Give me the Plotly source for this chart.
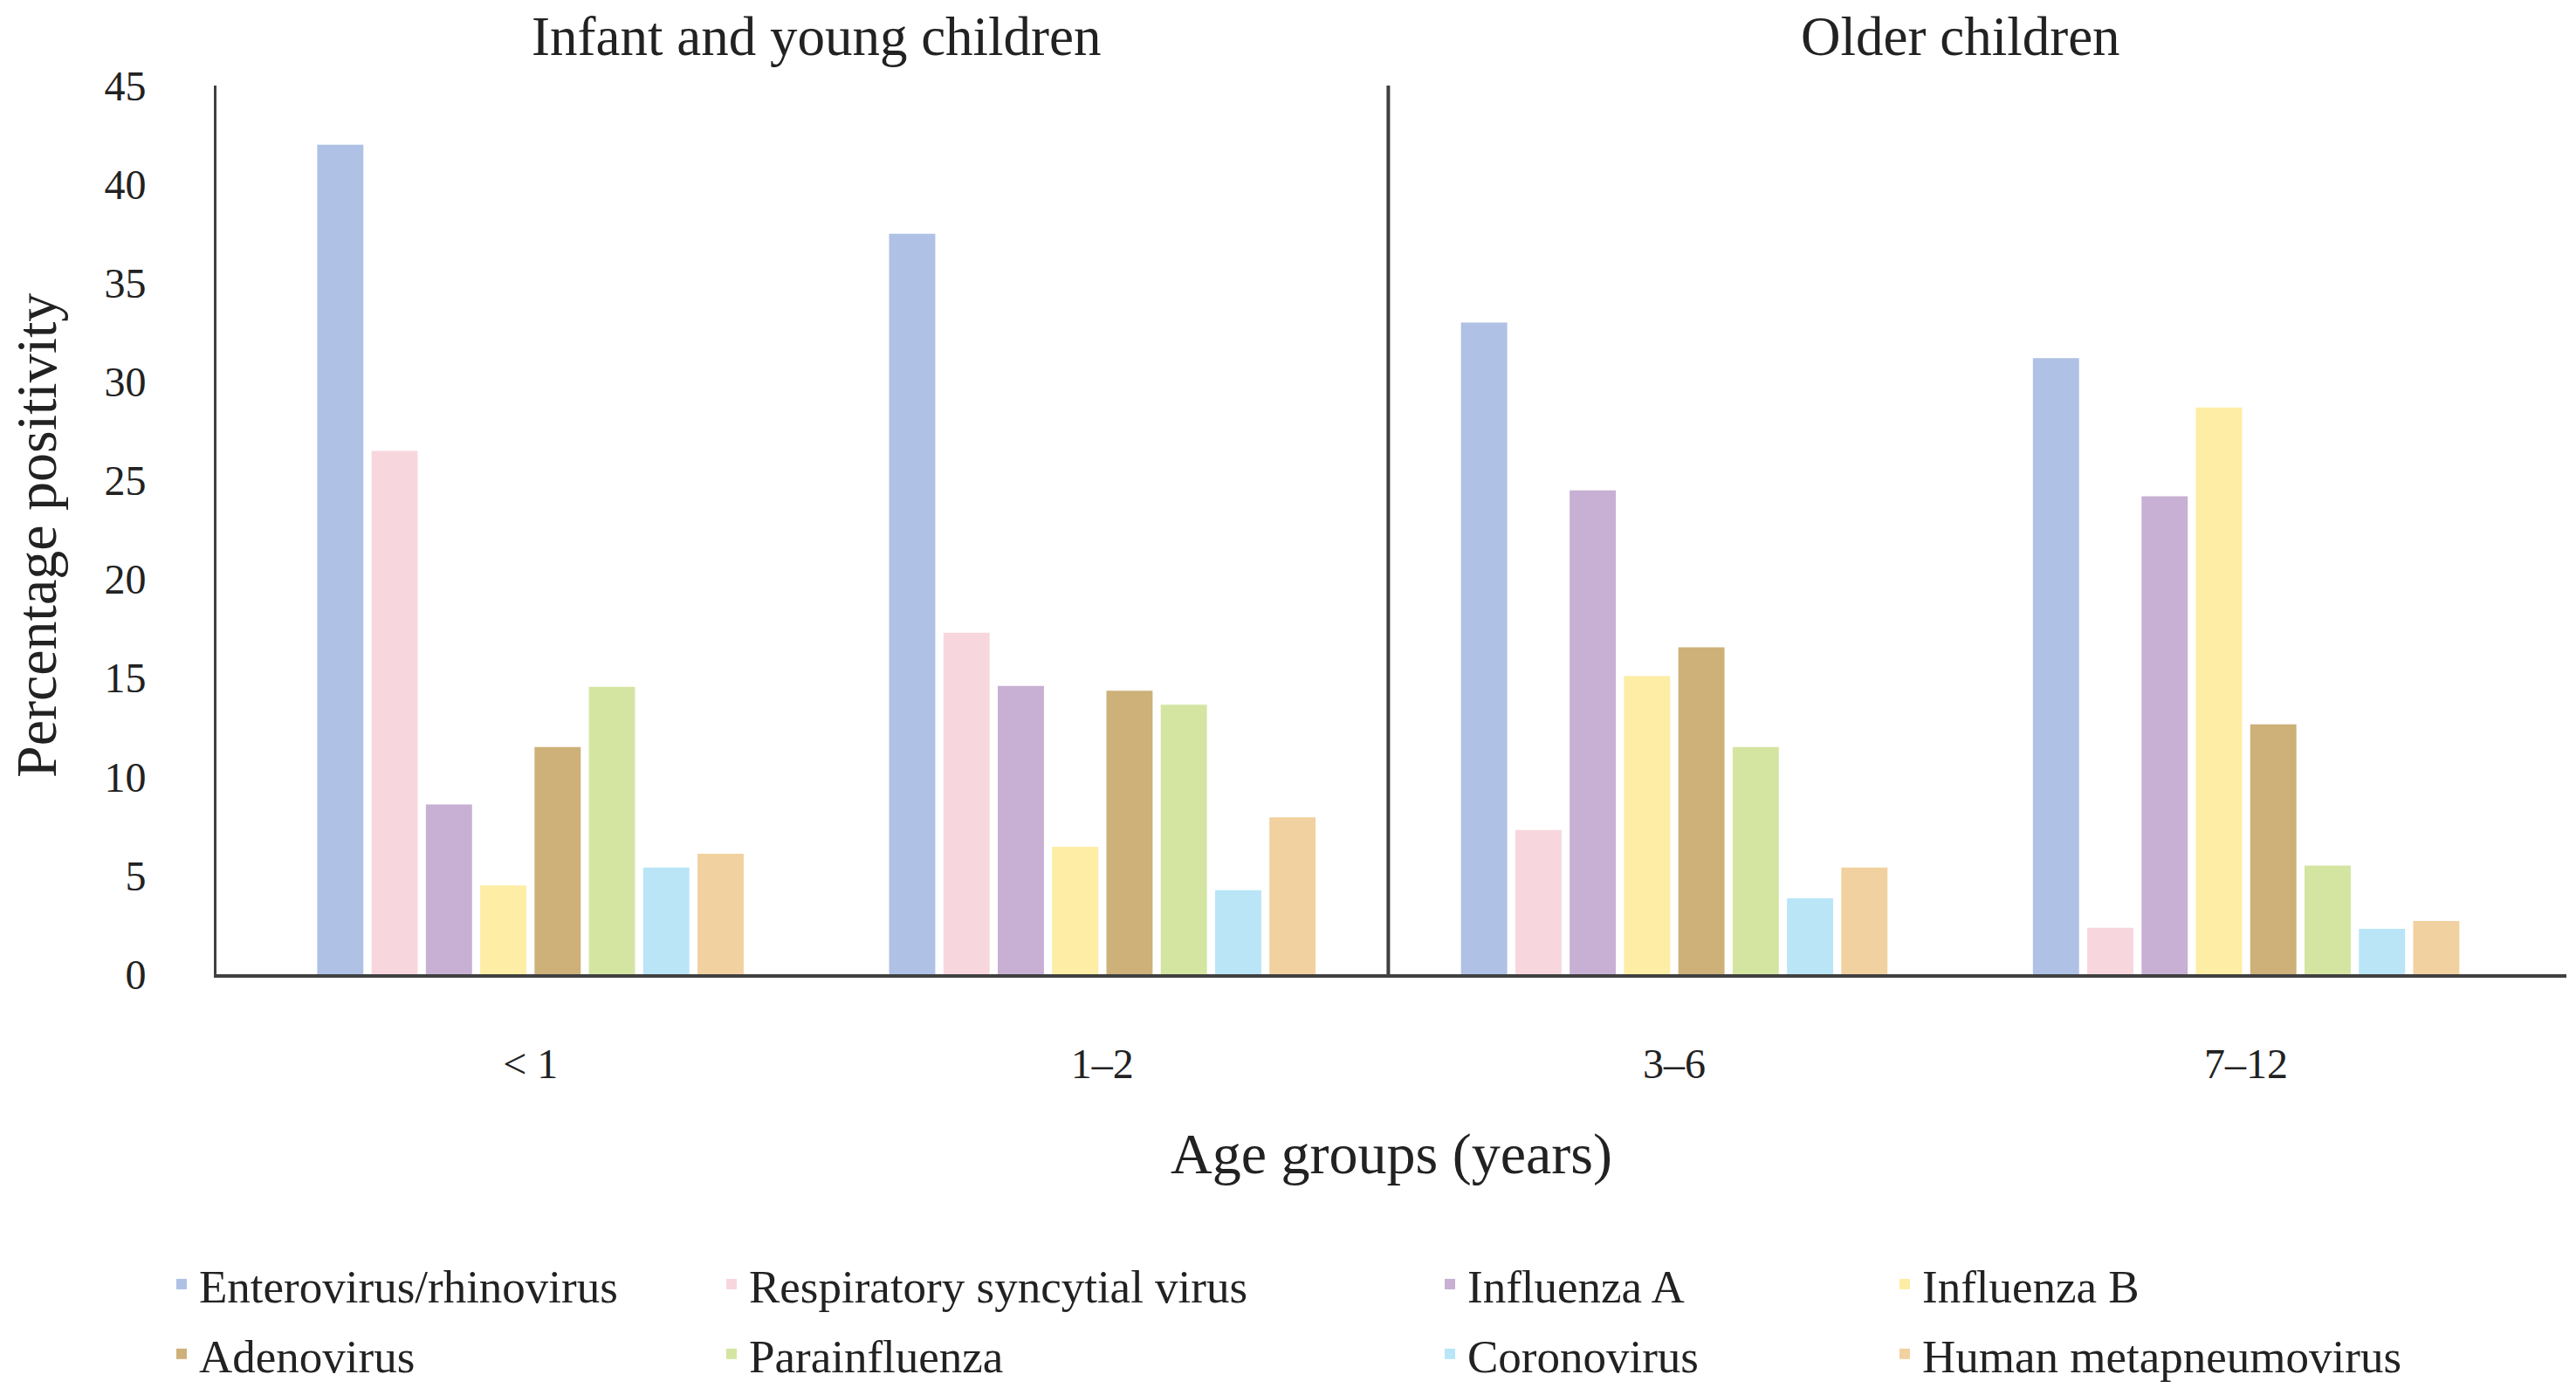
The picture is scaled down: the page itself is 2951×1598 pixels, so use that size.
import plotly.graph_objects as go

age_groups = ["< 1", "1–2", "3–6", "7–12"]
virus_names = ["Enterovirus/rhinovirus", "Respiratory syncytial virus", "Influenza A", "Influenza B",
               "Adenovirus", "Parainfluenza", "Coronovirus", "Human metapneumovirus"]
enterovirus = [42.0, 37.5, 33.0, 31.2]
rsv = [26.5, 17.3, 7.3, 2.35]
influenza_a = [8.6, 14.6, 24.5, 24.2]
influenza_b = [4.5, 6.45, 15.1, 28.7]
adenovirus = [11.5, 14.35, 16.55, 12.65]
parainfluenza = [14.55, 13.65, 11.5, 5.5]
coronovirus = [5.4, 4.25, 3.85, 2.3]
hmpv = [6.1, 7.95, 5.4, 2.7]
series = [enterovirus, rsv, influenza_a, influenza_b, adenovirus, parainfluenza, coronovirus, hmpv]
colors = ["#AFC1E4", "#F7D7DD", "#C7B0D3", "#FDEDA5", "#CDB179", "#D4E5A2", "#B9E5F7", "#F2D1A0"]
group_titles = ["Infant and young children", "Older children"]
y_title = "Percentage positivity"
x_title = "Age groups (years)"
y_ticks = [0, 5, 10, 15, 20, 25, 30, 35, 40, 45]

FONT = "Liberation Serif, Times New Roman, serif"
TXT = "#222222"
W, H = 2951, 1598
M_L, M_R, M_T, M_B = 240, 19, 90, 490
PLOT_W = W - M_L - M_R
PLOT_H = H - M_T - M_B

legend_names = ["legend", "legend2", "legend3", "legend4"]
legend_x_px = [180, 810, 1633, 2154]

fig = go.Figure()
for i, (name, vals, col) in enumerate(zip(virus_names, series, colors)):
    fig.add_trace(go.Bar(
        x=age_groups, y=vals, name=name,
        marker=dict(color=col, line=dict(width=0)),
        legend=legend_names[i % 4],
        legendgroup=name,
    ))

leg_common = dict(
    orientation="v", xref="container", yref="container",
    yanchor="top", xanchor="left",
    font=dict(family=FONT, size=53, color=TXT),
    bgcolor="rgba(0,0,0,0)", tracegroupgap=8,
)
layout_legends = {}
for ln, xp in zip(legend_names, legend_x_px):
    layout_legends[ln] = dict(leg_common, x=xp / W, y=1 - 1422 / H)

fig.update_layout(
    width=W, height=H,
    margin=dict(l=M_L, r=M_R, t=M_T, b=M_B, autoexpand=False),
    paper_bgcolor="white", plot_bgcolor="white",
    barmode="group", bargap=0.24, bargroupgap=0.15,
    font=dict(family=FONT, color=TXT),
    showlegend=True,
    **layout_legends,
    xaxis=dict(
        type="category", range=[-0.549, 3.56],
        showline=True, linecolor="#404040", linewidth=4,
        showgrid=False, ticks="", zeroline=False,
        tickfont=dict(family=FONT, size=48, color=TXT),
        tickangle=0, automargin=True,
        ticklabelstandoff=57,
        title=dict(text=x_title, font=dict(family=FONT, size=66, color=TXT), standoff=55),
    ),
    yaxis=dict(
        range=[0, 45], tickvals=y_ticks,
        showline=True, linecolor="#404040", linewidth=3,
        showgrid=False, zeroline=False,
        ticks="outside", ticklen=68, tickwidth=1, tickcolor="rgba(0,0,0,0)",
        tickfont=dict(family=FONT, size=48, color=TXT),
        automargin=False,
    ),
)

# y-axis title (rotated text left of the tick labels)
fig.add_annotation(x=(34 - M_L) / PLOT_W, xref="paper", y=(H - M_B - 605) / PLOT_H, yref="paper",
                   text=y_title, textangle=-90, showarrow=False,
                   xanchor="center", yanchor="middle",
                   font=dict(family=FONT, size=66, color=TXT))

fig.add_shape(type="line", xref="x", yref="y", x0=1.5, x1=1.5, y0=0, y1=45,
              line=dict(color="#404040", width=4))

for xpos, txt in zip([0.5, 2.5], group_titles):
    fig.add_annotation(x=xpos, xref="x", y=(H - M_B - 34) / PLOT_H, yref="paper",
                       text=txt, showarrow=False, yanchor="middle",
                       font=dict(family=FONT, size=63, color=TXT))

fig.write_html("out.html")
